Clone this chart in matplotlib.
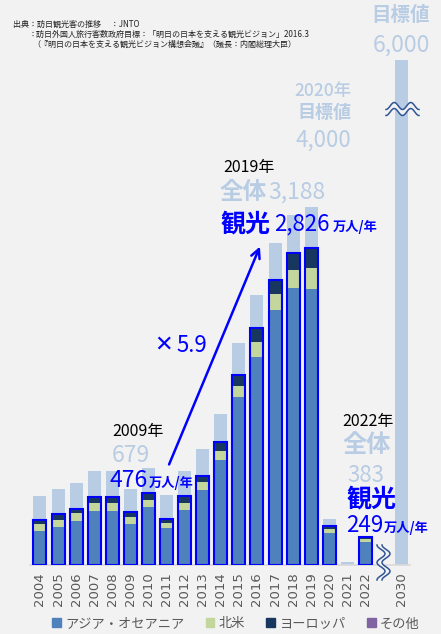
import numpy as np
import matplotlib
matplotlib.use("Agg")
import matplotlib.pyplot as plt
from matplotlib.patches import Patch

plt.rcParams["font.family"] = ["Noto Sans CJK JP", "DejaVu Sans"]

years = [str(y) for y in range(2004, 2023)] + ["2030"]
total = [614, 673, 733, 835, 835, 679, 861, 622, 836, 1036, 1341, 1974,
         2404, 2869, 3119, 3188, 412, 25, np.nan]
goal_2030 = 6000
asia = [302, 337, 391, 480, 480, 364, 515, 328, 488, 666, 932, 1500,
        1856, 2273, 2469, 2460, 284, 0, 204]
namerica = [62, 63, 71, 70, 70, 62, 62, 45, 62, 71, 80, 98,
            133, 142, 160, 186, 36, 0, 27]
europe = [32, 48, 30, 49, 49, 45, 57, 30, 58, 48, 75, 92,
          118, 118, 143, 170, 24, 0, 16]
other = [4, 5, 5, 5, 5, 5, 5, 5, 5, 5, 5, 6, 6, 7, 7, 10, 2, 0, 2]

BG = "#F2F2F2"
LIGHT = "#B8CCE4"
C_ASIA = "#4F81BD"
C_NA = "#C3D69B"
C_EU = "#17375E"
C_OT = "#8064A2"
BLUE = "#0000FF"
GRAY = "#595959"

W, H = 441, 634
fig = plt.figure(figsize=(W / 100, H / 100), dpi=100, facecolor=BG)
ax = fig.add_axes([30 / W, 69 / H, 380 / W, 505 / H])
ax.set_facecolor(BG)

x = np.arange(len(total))
x_all = np.append(x, 20)
bw = 0.72

ax.bar(x, total, width=bw, color=LIGHT, zorder=1)
ax.bar(20, goal_2030, width=bw, color=LIGHT, zorder=1)

bottom = np.zeros(len(asia))
for vals, col in [(asia, C_ASIA), (namerica, C_NA), (europe, C_EU), (other, C_OT)]:
    ax.bar(x, vals, width=bw, bottom=bottom, color=col, zorder=2)
    bottom = bottom + np.array(vals)

tour = bottom
mask = tour > 0
ax.bar(x[mask], tour[mask], width=bw, facecolor="none", edgecolor=BLUE,
       linewidth=1.5, zorder=3)

ax.set_xlim(-0.55, 20.46)
ax.set_ylim(0, 4497)
ax.set_xticks(x_all)
ax.set_xticklabels(years, rotation=90, color=GRAY, fontsize=9.5,
                   family=["DejaVu Sans"])
ax.tick_params(axis="x", length=0, pad=5)
ax.set_yticks([])
for s in ["top", "left", "right"]:
    ax.spines[s].set_visible(False)
ax.spines["bottom"].set_color("#D9D9D9")
ax.spines["bottom"].set_linewidth(1.2)

# break marks (decoration)
t = np.linspace(0, 1, 60)
bx = 386 + 33 * t
by = 106 - 3.5 * -np.cos(4 * np.pi * t)
fig.patches.append(plt.Polygon(np.column_stack([np.r_[bx, bx[::-1]], H - np.r_[by, by[::-1] + 6]]),
                               closed=True, transform=None, facecolor=BG, edgecolor="none"))
for off in (0, 6):
    fig.lines.append(plt.Line2D(bx, H - (by + off), transform=None, color="#2F5597", lw=1.1))

vy = 545 + 35 * t
vx = 381 + 4 * -np.cos(4 * np.pi * t)
fig.patches.append(plt.Polygon(np.column_stack([np.r_[vx, vx[::-1] + 5], H - np.r_[vy, vy[::-1]]]),
                               closed=True, transform=None, facecolor=BG, edgecolor="none"))
for off in (0, 5):
    fig.lines.append(plt.Line2D(vx + off, H - vy, transform=None, color="#2F5597", lw=1.1))

renderer = fig.canvas.get_renderer()


def txt(px, py, s, size, color, weight="normal", ha="left", va="baseline"):
    return fig.text(px / W, 1 - py / H, s, fontsize=size, color=color,
                    fontweight=weight, ha=ha, va=va)


def run(px, py, parts, gap=2):
    for s, size, color, weight in parts:
        t_ = txt(px, py, s, size, color, weight)
        px = t_.get_window_extent(renderer).x1 + gap


# source note
txt(13, 27, "出典：訪日観光客の推移　 ：JNTO", 5.8, "#222222")
txt(29, 37, "：訪日外国人旅行客数政府目標：「明日の日本を支える観光ビジョン」2016.3", 5.8, "#222222")
txt(32, 47, "（『明日の日本を支える観光ビジョン構想会議』（議長：内閣総理大臣）", 5.8, "#222222")

# targets
txt(401, 15, "目標値", 14, LIGHT, "bold", ha="center", va="center")
txt(401, 52, "6,000", 16.5, LIGHT, ha="center")
txt(323, 96, "2020年", 12.5, LIGHT, "medium", ha="center")
txt(324, 113, "目標値", 13, LIGHT, "bold", ha="center", va="center")
txt(323, 147, "4,000", 16, LIGHT, ha="center")

# 2019
txt(223, 172, "2019年", 11.5, "black")
run(220, 199, [("全体", 17, LIGHT, "bold"), ("3,188", 16.5, LIGHT, "normal")], gap=1)
run(221, 231, [("観光", 18, BLUE, "bold"), ("2,826", 16, BLUE, "normal"),
               ("万人/年", 9.5, BLUE, "bold")], gap=3)

# 2009
txt(112, 436, "2009年", 11.5, "black")
txt(112, 462, "679", 16.5, LIGHT)
run(110, 487, [("476", 16.5, BLUE, "normal"), ("万人/年", 9.5, BLUE, "bold")], gap=1)

# 2022
txt(342, 426, "2022年", 11.5, "black")
txt(367, 452, "全体", 17.5, LIGHT, "bold", ha="center")
txt(366, 482, "383", 16, LIGHT, ha="center")
txt(347, 506, "観光", 18, BLUE, "bold")
run(346, 532, [("249", 16, BLUE, "normal"), ("万人/年", 9.5, BLUE, "bold")], gap=1)

# growth
fig.text(154 / W, 1 - 351 / H, "✕", fontsize=16, color=BLUE, fontweight="bold",
         family=["DejaVu Sans"], va="baseline")
txt(176, 352, "5.9", 16, BLUE)
ax.annotate("", xy=(261, H - 244), xytext=(168, H - 467), xycoords="figure pixels",
            textcoords="figure pixels",
            arrowprops=dict(arrowstyle="->", color=BLUE, lw=1.8, mutation_scale=16))

handles = [Patch(color=c, label=l) for c, l in
           [(C_ASIA, "アジア・オセアニア"), (C_NA, "北米"), (C_EU, "ヨーロッパ"), (C_OT, "その他")]]
leg = fig.legend(handles=handles, loc="center", bbox_to_anchor=(236 / W, 1 - 624 / H),
                 ncol=4, frameon=False, fontsize=9.5, handlelength=0.65, handleheight=0.65,
                 handletextpad=0.35, columnspacing=1.6)
for t_ in leg.get_texts():
    t_.set_color(GRAY)

fig.savefig("out.png", dpi=100, facecolor=BG)
